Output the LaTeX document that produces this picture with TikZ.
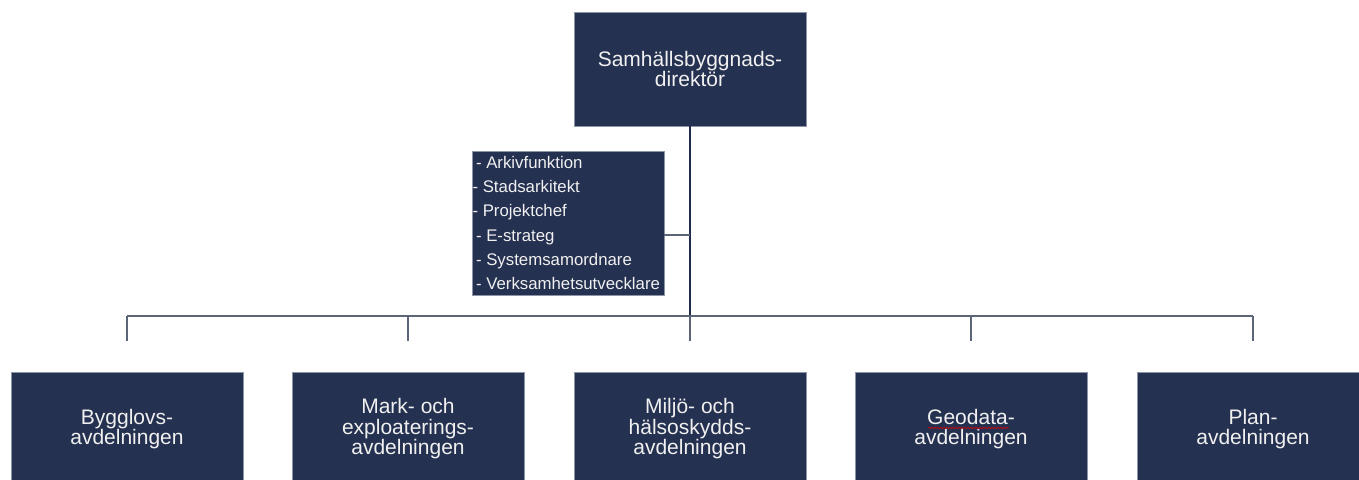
\documentclass[tikz,border=0pt]{standalone}
\usepackage{fontspec}
\setmainfont{Liberation Sans}
\usepackage{xcolor}
\usetikzlibrary{positioning}
\usetikzlibrary{decorations.pathmorphing}
\definecolor{marin}{RGB}{37,49,80}
\definecolor{kant}{RGB}{140,148,166}
\definecolor{linje}{RGB}{92,100,120}

\begin{document}
\begin{tikzpicture}[x=1pt,y=1pt]
	\tikzset{
		enhet/.style={fill=marin,draw=kant,line width=0.6pt,text=white!94!black,
			minimum width=232pt,minimum height=114pt,align=center,inner sep=0pt,
			font=\fontsize{21}{20.5}\selectfont},
		stab/.style={fill=marin,draw=kant,line width=0.6pt,text=white!94!black,
			minimum width=192pt,minimum height=144pt,align=left,inner xsep=2.5pt,
			font=\fontsize{16.8}{24.2}\selectfont},
		gren/.style={draw=linje,line width=1.4pt}
	}
	\useasboundingbox (0,0) rectangle (1359,479);
	
	\node[enhet] (dir) at (690,410) {Samhällsbyggnads-\\direktör};
	\node[stab] (stab) at (568,256) {- Arkivfunktion\\\hspace*{-3.5pt}- Stadsarkitekt\\\hspace*{-3.5pt}- Projektchef\\- E-strateg\\- Systemsamordnare\\- Verksamhetsutvecklare};
	
	\node[enhet] (bygg) at (127,50) {Bygglovs-\\avdelningen};
	\node[enhet] (mark) at (408,50) {Mark- och\\exploaterings-\\avdelningen};
	\node[enhet] (miljo) at (690,50) {Miljö- och\\hälsoskydds-\\avdelningen};
	\node[enhet] (geo) at (971,50) {Geodata-\\avdelningen};
	\node[enhet] (plan) at (1253,50) {Plan-\\avdelningen};
	
	\coordinate (buss) at (690,163);
	\draw[draw=marin!90!black,line width=2.2pt] (dir.south) -- (buss);
	\draw[gren] ([yshift=-12pt]stab.east) -- ([yshift=-12pt]stab.east -| buss);
	\draw[gren] (buss -| bygg) -- (buss -| plan);
	\foreach \n in {bygg,mark,miljo,geo,plan}
		\draw[gren] (buss -| \n) -- ([yshift=-25pt]buss -| \n);
	
	\draw[red!85!black,line width=0.6pt,decorate,decoration={snake,amplitude=0.8pt,segment length=3pt}] (928,51) -- (1009,51);
\end{tikzpicture}
\end{document}
